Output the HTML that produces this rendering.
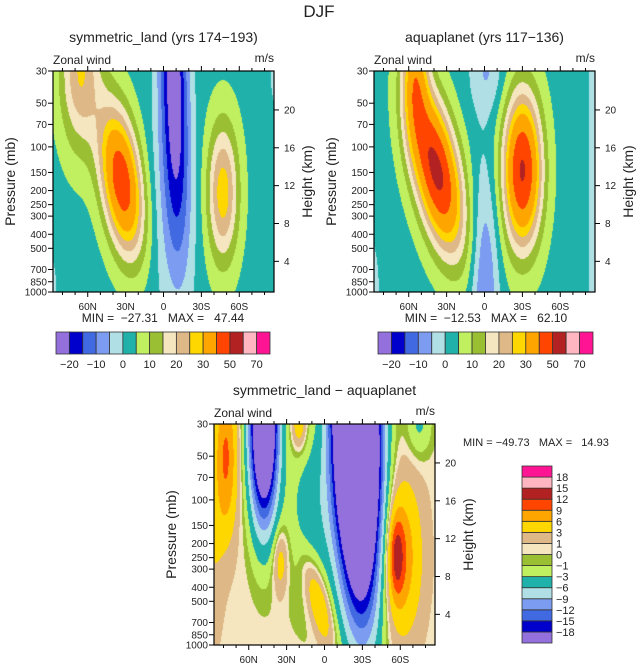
<!DOCTYPE html>
<html><head><meta charset="utf-8">
<style>
html,body{margin:0;padding:0;background:#fff;}
#root{position:relative;width:638px;height:664px;overflow:hidden;font-family:"Liberation Sans",sans-serif;}
canvas{position:absolute;}
svg{position:absolute;left:0;top:0;}
text{white-space:pre;}
</style></head>
<body>
<div id="root">
<canvas id="c1" width="221" height="221" style="left:53px;top:71px"></canvas>
<canvas id="c2" width="221" height="221" style="left:374px;top:71px"></canvas>
<canvas id="c3" width="221" height="221" style="left:214px;top:424px"></canvas>
<svg id="ov" width="638" height="664"></svg>
</div>
<script>
// ---- data ----
const colors = ["#9370DB","#0000CD","#4169E1","#7B9CF0","#B0E0E6","#20B2AA","#C0F060","#9BBF33","#F5E6C0","#DEB887","#FFD700","#FFA500","#FF4500","#B22222","#FFB6C1","#FF1493"];
const levels12 = [-20,-15,-10,-5,0,5,10,15,20,25,30,40,50,60,70];
const levels3 = [-18,-15,-12,-9,-6,-3,-1,0,1,3,6,9,12,15,18];
const bar12Labels = ["-20","-10","0","10","20","30","50","70"];
const latTicks = [60,30,0,-30,-60];
const latLabels = ["60N","30N","0","30S","60S"];
const pTicks = [30,50,70,100,150,200,250,300,400,500,700,850,1000];
const hTicks = [4,8,12,16,20];
// blobs: amplitude, center lat, center z (0=30mb,1=1000mb), lat width, z width, tilt
const land_amp  = [44, 22, 25, -28, -6, -5, -5];
const land_lat  = [33, 66, -47, -8, -3, 92, -92];
const land_z    = [0.5, 0.0, 0.55, 0.0, 0.65, 1.0, 0.0];
const land_sl   = [16, 16, 12.5, 11, 20, 10, 10];
const land_sz   = [0.33, 0.35, 0.32, 0.75, 0.5, 0.25, 0.25];
const land_tilt = [-20, 0, 0, -5, 0, 0, 0];
const land_base = 3;
const aqua_amp  = [50, 25, 48, -14, -8, -7, -6];
const aqua_lat  = [38, 55, -30, 0, -2, -94, 92];
const aqua_z    = [0.45, 0.0, 0.45, 1.0, 0.0, 0.5, 1.0];
const aqua_sl   = [18, 10, 15, 11, 14, 12, 10];
const aqua_sz   = [0.36, 0.3, 0.34, 0.55, 0.2, 3, 0.3];
const aqua_tilt = [-30, 0, 0, 0, 0, 0, 0];
const aqua_base = 3;
const diff_amp  = [-60, -35, 8, 8, 7, 5, 9, 6, -5, -4, 2];
const diff_lat  = [-25, 48, -57, -60, 5, 35, 78, 20, 10, -75, 88];
const diff_z    = [0.0, 0.0, 0.6, 0.6, 0.8, 0.62, 0.15, 0.0, 0.4, 0.0, 0.6];
const diff_sl   = [17, 11, 6, 16, 9, 6, 9, 6, 20, 10, 8];
const diff_sz   = [0.74, 0.42, 0.18, 0.35, 0.2, 0.15, 0.35, 0.12, 0.4, 0.15, 0.4];
const diff_tilt = [-5, 0, 0, 0, -40, 0, 0, 0, 0, 0, 0];
const diff_base = 0.5;
const minmax1 = ["-27.31","47.44"], minmax2 = ["-12.53","62.10"], minmax3 = ["-49.73","14.93"];

// ---- axes ----
const W=221,H=221,LATMAX=87.5;
function xOf(lat){return (LATMAX-lat)/(2*LATMAX)*W;}
function latOf(x){return LATMAX-x/W*2*LATMAX;}
function yOfP(p){return Math.log(p/30)/Math.log(1000/30)*H;}
function pOfH(h){return 1121*Math.exp(-h/6.66);}

function field(x,y,amp,lat,z,sl,sz,tilt,base){
  const la=latOf(x), zz=y/H; let v=base;
  for(let i=0;i<amp.length;i++){
    const dl=(la-lat[i]-tilt[i]*(zz-z[i]))/sl[i], dz=(zz-z[i])/sz[i];
    v+=amp[i]*Math.exp(-dl*dl-dz*dz);
  }
  return v;
}
function lvl(v,levs){let k=0;while(k<levs.length&&v>=levs[k])k++;return k;}
function hex(c){return [parseInt(c.substr(1,2),16),parseInt(c.substr(3,2),16),parseInt(c.substr(5,2),16)];}
const rgb=colors.map(hex);
function paint(id,amp,lat,z,sl,sz,tilt,base,levs){
  const ctx=document.getElementById(id).getContext('2d');
  const im=ctx.createImageData(W,H);
  for(let y=0;y<H;y++)for(let x=0;x<W;x++){
    const c=rgb[lvl(field(x+0.5,y+0.5,amp,lat,z,sl,sz,tilt,base),levs)];
    const o=(y*W+x)*4;im.data[o]=c[0];im.data[o+1]=c[1];im.data[o+2]=c[2];im.data[o+3]=255;
  }
  ctx.putImageData(im,0,0);
}
paint('c1',land_amp,land_lat,land_z,land_sl,land_sz,land_tilt,land_base,levels12);
paint('c2',aqua_amp,aqua_lat,aqua_z,aqua_sl,aqua_sz,aqua_tilt,aqua_base,levels12);
paint('c3',diff_amp,diff_lat,diff_z,diff_sl,diff_sz,diff_tilt,diff_base,levels3);

const NS='http://www.w3.org/2000/svg', ov=document.getElementById('ov');
function el(tag,attrs,parent){const e=document.createElementNS(NS,tag);for(const k in attrs)e.setAttribute(k,attrs[k]);(parent||ov).appendChild(e);return e;}
function txt(s,x,y,size,anchor,name,rot){
  const t=el('text',{x:x,y:y,'font-size':size,'text-anchor':anchor||'start',fill:'#222','font-family':'Liberation Sans, sans-serif'});
  if(rot)t.setAttribute('transform','rotate(-90 '+x+' '+y+')');
  t.textContent=s;
  
  
  return t;
}
function axes(X,Y,title,tag){
  const g=el('g',{});
  
  
  el('rect',{x:X,y:Y,width:W,height:H,fill:'none',stroke:'#000','stroke-width':1.2},g);
  for(let lat=-80;lat<=80;lat+=10){
    const x=X+xOf(lat);
    const major=lat%30===0;
    el('line',{x1:x,y1:Y+H,x2:x,y2:Y+H+(major?5:3),stroke:'#000'},g);
    el('line',{x1:x,y1:Y,x2:x,y2:Y-(major?5:3),stroke:'#000'},g);
  }
  latTicks.forEach((lat,i)=>txt(latLabels[i],X+xOf(lat),Y+H+18,10,'middle',tag+'-lat-label'));
  pTicks.forEach(p=>{const y=Y+yOfP(p);el('line',{x1:X,y1:y,x2:X-5,y2:y,stroke:'#000'},g);
    txt(String(p),X-6,y+3.5,10,'end',tag+'-pressure-tick');});
  hTicks.forEach(h=>{const y=Y+yOfP(pOfH(h));el('line',{x1:X+W,y1:y,x2:X+W+5,y2:y,stroke:'#000'},g);
    txt(String(h),X+W+10,y+3.5,10,'start',tag+'-height-tick');});
  txt('Zonal wind',X,Y-7,12,'start',tag+'-zonal-wind-label');
  txt('m/s',X+W,Y-9,12,'end',tag+'-units-label');
  txt(title,X+W/2,Y-29,14,'middle',tag+'-title');
  txt('Pressure (mb)',X-38,Y+H/2,14,'middle',tag+'-y-axis-title',true);
  txt('Height (km)',X+W+38,Y+H/2,14,'middle',tag+'-height-axis-title',true);
}
axes(53,71,'symmetric_land (yrs 174\u2212193)','land');
axes(374,71,'aquaplanet (yrs 117\u2212136)','aqua');
axes(214,424,'symmetric_land \u2212 aquaplanet','diff');
txt('DJF',319,17,17,'middle','figure-title');
txt('MIN =  \u2212'+minmax1[0].slice(1)+'   MAX =   '+minmax1[1],163,322,12,'middle','land-minmax');
txt('MIN =  \u2212'+minmax2[0].slice(1)+'   MAX =   '+minmax2[1],486,322,12,'middle','aqua-minmax');
txt('MIN = \u2212'+minmax3[0].slice(1)+'   MAX =   '+minmax3[1],463,446,11,'start','diff-minmax');

function hbar(X,Y,w,h,tag){
  const bw=w/colors.length;
  colors.forEach((c,i)=>{const r=el('rect',{x:X+i*bw,y:Y,width:bw,height:h,fill:c,stroke:'#333','stroke-width':0.8});
    
    });
  bar12Labels.forEach((s,i)=>txt(s.replace('-','\u2212'),X+(2*i+1)*bw,Y+h+14,11,'middle',tag+'-colorbar-label'));
}
hbar(56,332,214,22,'land');
hbar(378,332,215,22,'aqua');
(function(){
  const X=522,Y=466,w=30,h=177,bh=h/colors.length;
  colors.forEach((c,i)=>{const r=el('rect',{x:X,y:Y+h-(i+1)*bh,width:w,height:bh,fill:c,stroke:'#333','stroke-width':0.8});
    
    });
  levels3.forEach((v,i)=>txt(v<0?'\u2212'+(-v):String(v),X+w+4,Y+h-(i+1)*bh+4,11,'start','diff-colorbar-label'));
})();
</script>
</body></html>
